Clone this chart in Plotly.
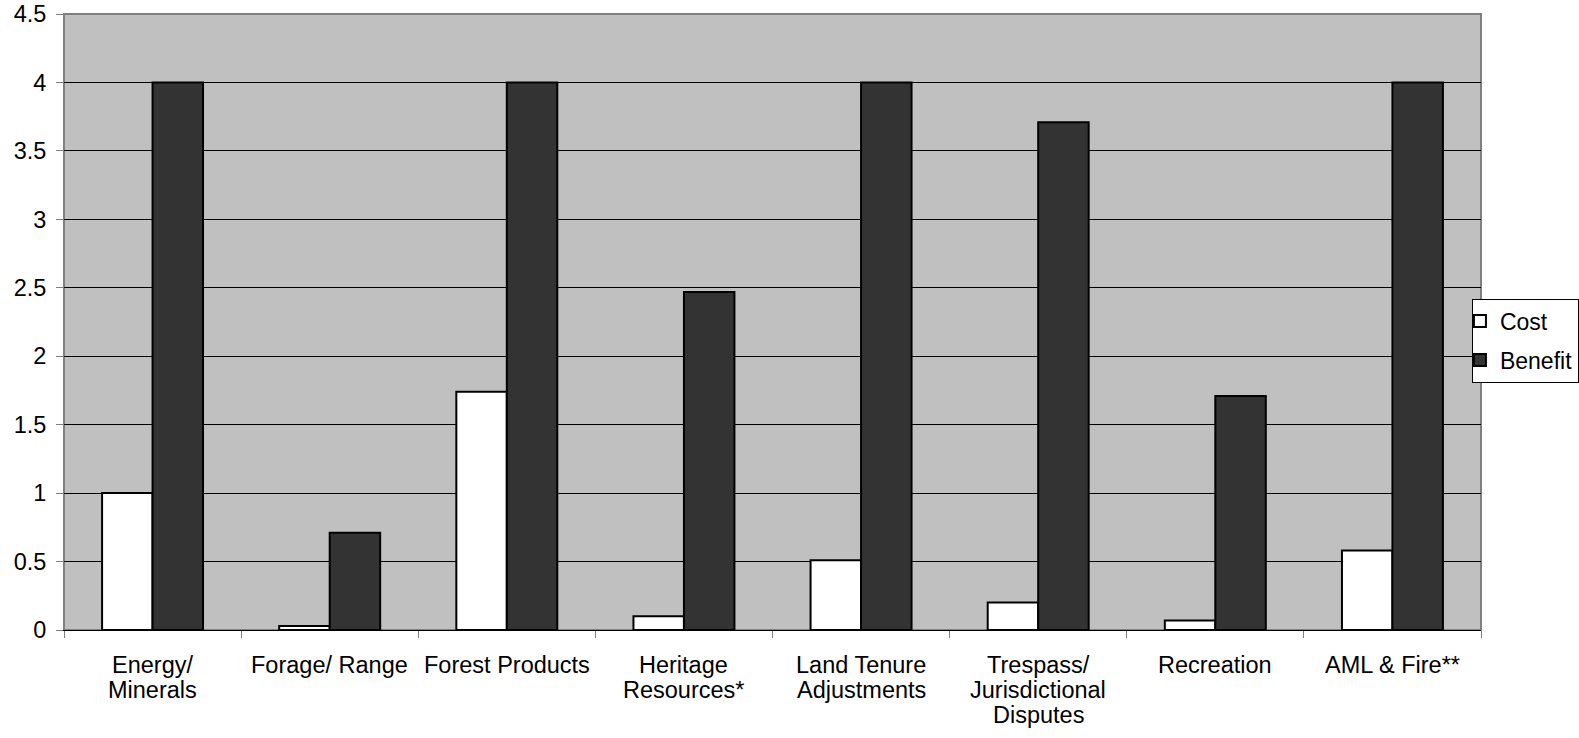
import plotly.graph_objects as go

categories = [
    "Energy/ Minerals",
    "Forage/ Range",
    "Forest Products",
    "Heritage Resources*",
    "Land Tenure Adjustments",
    "Trespass/ Jurisdictional Disputes",
    "Recreation",
    "AML & Fire**",
]
# how each category label wraps under the axis
label_lines = [
    ["Energy/", "Minerals"],
    ["Forage/ Range"],
    ["Forest Products"],
    ["Heritage", "Resources*"],
    ["Land Tenure", "Adjustments"],
    ["Trespass/", "Jurisdictional", "Disputes"],
    ["Recreation"],
    ["AML & Fire**"],
]
cost = [1.0, 0.03, 1.74, 0.10, 0.51, 0.20, 0.07, 0.58]
benefit = [4.0, 0.71, 4.0, 2.47, 4.0, 3.71, 1.71, 4.0]
y_ticks = [0, 0.5, 1, 1.5, 2, 2.5, 3, 3.5, 4, 4.5]
y_tick_labels = ["0", "0.5", "1", "1.5", "2", "2.5", "3", "3.5", "4", "4.5"]

FONT = "Liberation Sans, Arial, sans-serif"
FS = 23.5

fig = go.Figure()
fig.add_trace(go.Bar(
    name="Cost", x=categories, y=cost,
    marker=dict(color="#FFFFFF", line=dict(color="#000000", width=2)),
    legendgroup="cost",
))
fig.add_trace(go.Bar(
    name="Benefit", x=categories, y=benefit,
    marker=dict(color="#333333", line=dict(color="#000000", width=2)),
    legendgroup="benefit",
))

# plot-area frame (grey) drawn beneath the bars
fig.add_shape(type="rect", xref="paper", yref="paper", x0=0, y0=0, x1=1, y1=1,
              line=dict(color="#808080", width=2), layer="below")

# category labels, one annotation per line for tight line spacing
annotations = []
for cat, lines in zip(categories, label_lines):
    for i, line in enumerate(lines):
        annotations.append(dict(
            x=cat, xref="x", y=0, yref="paper",
            text=line, showarrow=False,
            xanchor="center", yanchor="middle",
            yshift=-(35 + 25 * i),
            font=dict(family=FONT, size=FS, color="#000000"),
        ))

fig.update_layout(
    width=1579, height=738,
    margin=dict(l=64, r=98, t=14, b=108, autoexpand=False),
    paper_bgcolor="#FFFFFF",
    plot_bgcolor="#C0C0C0",
    barmode="group",
    bargap=0.43,
    bargroupgap=0,
    font=dict(family=FONT, size=FS, color="#000000"),
    annotations=annotations,
    showlegend=True,
    legend=dict(
        x=0.9936, y=0.538, xanchor="left", yanchor="top",
        bgcolor="#FFFFFF", bordercolor="#000000", borderwidth=1,
        font=dict(family=FONT, size=23, color="#000000"),
        traceorder="grouped", tracegroupgap=6,
        itemwidth=30, indentation=-13,
    ),
    xaxis=dict(
        showgrid=False,
        showline=True, linecolor="#000000", linewidth=1,
        ticks="outside", tickson="boundaries", ticklen=7, tickcolor="#808080",
        showticklabels=False,
        automargin=False,
    ),
    yaxis=dict(
        range=[0, 4.5],
        tickvals=y_ticks, ticktext=y_tick_labels,
        showgrid=True, gridcolor="#000000", gridwidth=1,
        showline=True, linecolor="#808080", linewidth=1,
        ticks="outside", ticklen=7, tickcolor="#808080",
        tickfont=dict(family=FONT, size=FS, color="#000000"),
        ticklabelstandoff=5,
        zeroline=False,
        automargin=False,
    ),
)

fig.write_html("out.html")
